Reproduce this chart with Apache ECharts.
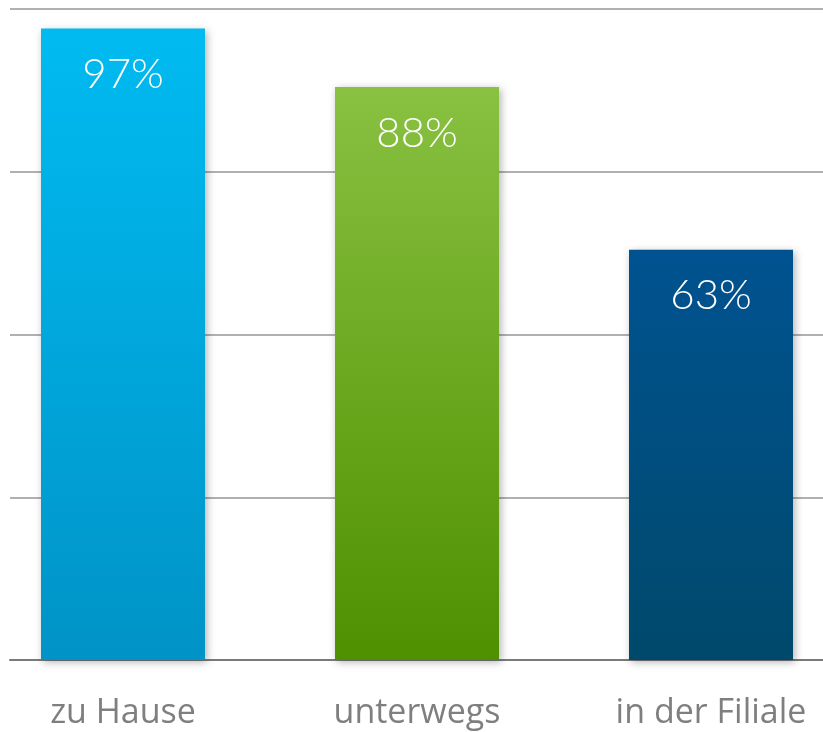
<!DOCTYPE html>
<html>
<head>
<meta charset="utf-8">
<script src="https://cdn.jsdelivr.net/npm/echarts@6/dist/echarts.min.js"></script>
<style>
  html, body { margin: 0; padding: 0; background: #fff; }
  #main { width: 823px; height: 732px; }
</style>
</head>
<body>
<div id="main"></div>
<script>
var categories = ['zu Hause', 'unterwegs', 'in der Filiale'];
var values = [97, 88, 63];

// top / bottom colour of each bar's gradient
var barColors = [
    ['#00bbf1', '#0093c7'],
    ['#89c141', '#4e9000'],
    ['#005391', '#00496c']
];

var myChart = echarts.init(document.getElementById('main'));

var barData = values.map(function (v, i) {
    return {
        value: v,
        itemStyle: {
            color: new echarts.graphic.LinearGradient(0, 0, 0, 1, [
                { offset: 0, color: barColors[i][0] },
                { offset: 1, color: barColors[i][1] }
            ])
        }
    };
});

var option = {
    animation: false,
    grid: [
        // grid for the horizontal lines
        { left: 10, right: 0, top: 9, bottom: 72, outerBoundsMode: 'none' },
        // grid for the bars (wider than the page on both sides)
        { left: -24, width: 882, top: 9, bottom: 72, outerBoundsMode: 'none' }
    ],
    xAxis: [
        {
            gridIndex: 0,
            type: 'category',
            data: categories,
            axisLine: { show: true, lineStyle: { color: '#7a7a7a', width: 2 } },
            axisTick: { show: false },
            axisLabel: { show: false }
        },
        {
            gridIndex: 1,
            type: 'category',
            data: categories,
            axisLine: { show: false },
            axisTick: { show: false },
            axisLabel: {
                color: '#7f7f7f',
                fontSize: 34,
                fontFamily: 'Open Sans',
                margin: 36
            }
        }
    ],
    yAxis: [
        {
            gridIndex: 0,
            type: 'value',
            min: 0,
            max: 100,
            interval: 25,
            axisLine: { show: false },
            axisTick: { show: false },
            axisLabel: { show: false },
            splitLine: { lineStyle: { color: '#b0b0b0', width: 2 } }
        },
        {
            gridIndex: 1,
            type: 'value',
            min: 0,
            max: 100,
            interval: 25,
            show: false,
            splitLine: { show: false }
        }
    ],
    series: [
        {
            type: 'bar',
            xAxisIndex: 1,
            yAxisIndex: 1,
            barWidth: 164,
            data: barData,
            itemStyle: {
                shadowBlur: 8,
                shadowColor: 'rgba(0,0,0,0.3)',
                shadowOffsetX: 2,
                shadowOffsetY: 2
            },
            label: {
                show: true,
                position: 'insideTop',
                distance: 25,
                color: '#fff',
                fontSize: 42,
                fontFamily: 'Lato',
                fontWeight: 300,
                formatter: '{c}%'
            }
        }
    ]
};

myChart.setOption(option);
</script>
</body>
</html>
